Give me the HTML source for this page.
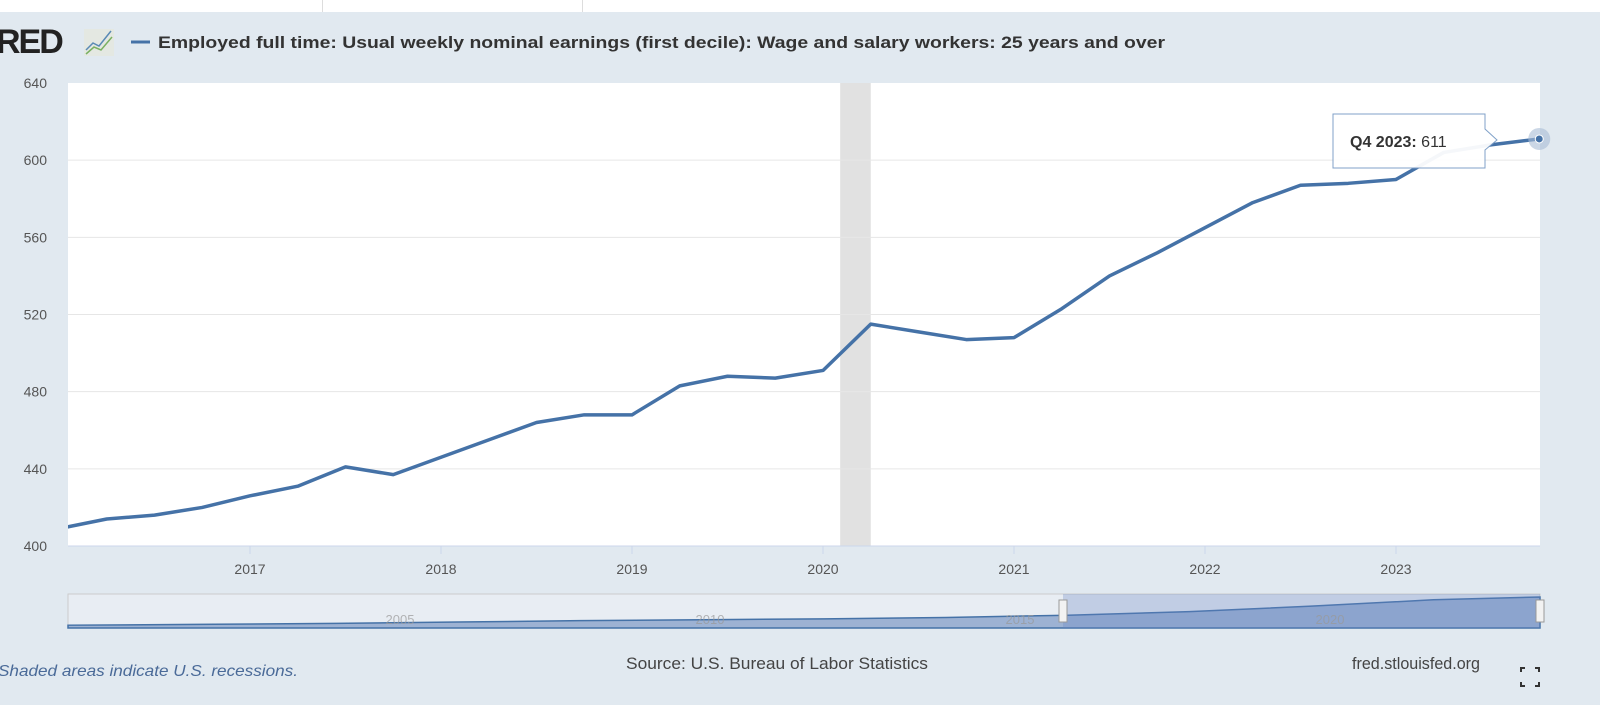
<!DOCTYPE html>
<html><head><meta charset="utf-8"><style>
body{margin:0;width:1600px;height:705px;background:#e1e9f0;font-family:"Liberation Sans",sans-serif;overflow:hidden;position:relative}
.top{position:absolute;left:0;top:0;width:1600px;height:12px;background:#fff}
</style></head><body>
<div class="top">
<div style="position:absolute;left:322px;top:0;width:1px;height:12px;background:#ddd"></div>
<div style="position:absolute;left:582px;top:0;width:1px;height:12px;background:#ddd"></div>
</div>
<svg id="c" width="1600" height="705" style="position:absolute;left:0;top:0"></svg>
<script>
const quarters=["2016Q1","2016Q2","2016Q3","2016Q4","2017Q1","2017Q2","2017Q3","2017Q4","2018Q1","2018Q2","2018Q3","2018Q4","2019Q1","2019Q2","2019Q3","2019Q4","2020Q1","2020Q2","2020Q3","2020Q4","2021Q1","2021Q2","2021Q3","2021Q4","2022Q1","2022Q2","2022Q3","2022Q4","2023Q1","2023Q2","2023Q3","2023Q4"];
const values=[409,414,416,420,426,431,441,437,446,455,464,468,468,483,488,487,491,515,511,507,508,523,540,552,565,578,587,588,590,604,608,611];
const yTicks=[400,440,480,520,560,600,640];
const xTicks=[2017,2018,2019,2020,2021,2022,2023];
const navYears=[1999.6,2002,2004,2006,2008,2010,2012,2014,2016,2018,2020,2022,2023.75];
const navValues=[300,310,320,335,350,360,370,385,410,450,510,580,611];
const NS="http://www.w3.org/2000/svg",svg=document.getElementById('c');
function el(t,a,p){const e=document.createElementNS(NS,t);for(const k in a)e.setAttribute(k,a[k]);(p||svg).appendChild(e);return e;}
const L=68,R=1540,T=83,B=546;
const X=d=>250+(d-2017)*191;
const Y=v=>B-(v-400)/(640-400)*(B-T);
const qd=q=>+q.slice(0,4)+(+q.slice(5)-1)*0.25;
let t=el('text',{x:-4,y:53,'font-size':34,'font-weight':'bold',fill:'#222','letter-spacing':'-2'});t.textContent='RED';

let ic=el('g',{});
el('rect',{x:84,y:29,width:30,height:27,fill:'#e4e8e2'},ic);
el('polyline',{points:'86,50 93,43 99,46 111,31',fill:'none',stroke:'#5a8ab5','stroke-width':1.5},ic);
el('polyline',{points:'86,54 94,47 101,50 112,37',fill:'none',stroke:'#7ab062','stroke-width':1.5},ic);
let lg=el('line',{x1:131,y1:42,x2:150,y2:42,stroke:'#4572a7','stroke-width':3});

t=el('text',{x:158,y:48,'font-size':17,'font-weight':'bold',fill:'#333',textLength:1007,lengthAdjust:'spacingAndGlyphs'});t.textContent='Employed full time: Usual weekly nominal earnings (first decile): Wage and salary workers: 25 years and over';

let pb=el('rect',{x:L,y:T,width:R-L,height:B-T,fill:'#fff'});
let rc=el('rect',{x:X(2020.09),y:T,width:X(2020.25)-X(2020.09),height:B-T,fill:'#e1e1e1'});

yTicks.forEach(v=>{if(v>400&&v<640){let g=el('line',{x1:L,x2:R,y1:Y(v),y2:Y(v),stroke:'#e6e6e6'});}
 let tx=el('text',{x:47,y:Y(v)+5,'font-size':14,fill:'#555','text-anchor':'end'});tx.textContent=v;});
xTicks.forEach(y=>{let tk=el('line',{x1:X(y),x2:X(y),y1:B,y2:B+8,stroke:'#ccd6eb'});
 let tx=el('text',{x:X(y),y:B+28,'font-size':14,fill:'#555','text-anchor':'middle'});tx.textContent=y;});
el('line',{x1:L,x2:R,y1:B,y2:B,stroke:'#ccd6eb'});
const cp=el('clipPath',{id:'cp'});el('rect',{x:L,y:T-10,width:R-L+10,height:B-T+20},cp);
let pl=el('polyline',{points:quarters.map((q,i)=>X(qd(q))+','+Y(values[i])).join(' '),fill:'none',stroke:'#4572a7','stroke-width':3.5,'stroke-linejoin':'round','clip-path':'url(#cp)'});

const li=values.length-1,lx=X(qd(quarters[li])),ly=Y(values[li]);
el('circle',{cx:lx,cy:ly,r:11,fill:'#a8bdd6',opacity:0.6});
let hp=el('circle',{cx:lx,cy:ly,r:4,fill:'#4572a7',stroke:'#fff'});
let tg=el('g',{});
el('path',{d:'M1333,114 H1485 V129 L1497,140 L1485,150 V168 H1333 Z',fill:'#fff',stroke:'#7a9cc6','stroke-width':1,opacity:0.95},tg);
t=el('text',{x:1350,y:147,'font-size':16,fill:'#333'},tg);t.innerHTML='<tspan font-weight="bold">Q4 2023:</tspan> '+values[li];
const NX=d=>L+(d-1999.6)/(2023.75-1999.6)*(R-L),NY=v=>627-(v-280)/(611-280)*30;
el('rect',{x:L,y:594,width:R-L,height:34,fill:'#e8edf3',stroke:'#ccc'});
let na=el('path',{d:'M'+NX(navYears[0])+',628 '+navYears.map((y,i)=>'L'+NX(y)+','+NY(navValues[i])).join(' ')+' L'+NX(navYears[navYears.length-1])+',628 Z',fill:'#9db2d3',stroke:'#4572a7','stroke-width':1.5});

let ns=el('rect',{x:1063,y:594,width:R-1063,height:34,fill:'#6685c2',opacity:0.3});
[1063,1540].forEach(x=>{let h=el('rect',{x:x-4,y:600,width:8,height:22,fill:'#f2f2f2',stroke:'#999'});});
[[2005,400],[2010,710],[2015,1020],[2020,1330]].forEach(([y,x])=>{let tx=el('text',{x:x,y:624,'font-size':13,fill:'#999','text-anchor':'middle',opacity:0.7});tx.textContent=y;});
t=el('text',{x:-2,y:676,'font-size':16,fill:'#4a6a98','font-style':'italic',textLength:300,lengthAdjust:'spacingAndGlyphs'});t.textContent='Shaded areas indicate U.S. recessions.';
t=el('text',{x:626,y:669,'font-size':17,fill:'#444',textLength:302,lengthAdjust:'spacingAndGlyphs'});t.textContent='Source: U.S. Bureau of Labor Statistics';
t=el('text',{x:1352,y:669,'font-size':17,fill:'#444',textLength:128,lengthAdjust:'spacingAndGlyphs'});t.textContent='fred.stlouisfed.org';
let fs=el('path',{d:'M1521,672 v-4 h4 M1535,668 h4 v4 M1539,682 v4 h-4 M1525,686 h-4 v-4',fill:'none',stroke:'#333','stroke-width':2});
</script>
</body></html>
